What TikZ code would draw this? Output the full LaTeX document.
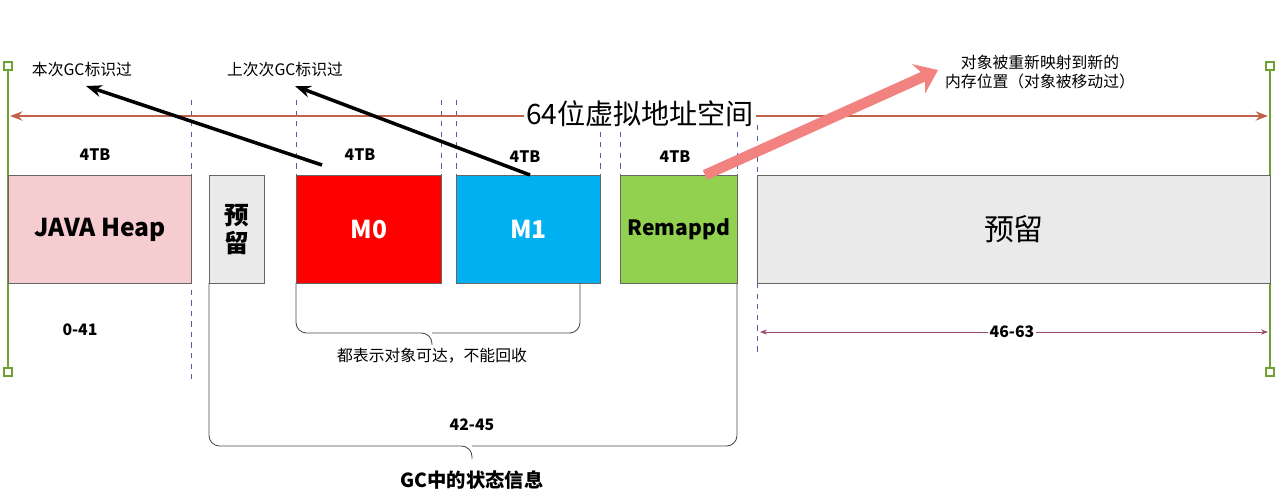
\documentclass[tikz,border=0pt]{standalone}
\usepackage{fontspec}
\setmainfont{Noto Sans CJK SC}
\usetikzlibrary{calc, arrows.meta, positioning}
\definecolor{heappink}{RGB}{245,204,208}
\definecolor{resgray}{RGB}{234,234,234}
\definecolor{mblue}{RGB}{0,176,240}
\definecolor{rgreen}{RGB}{146,208,80}
\definecolor{axisred}{RGB}{192,98,74}
\definecolor{salmon}{RGB}{242,130,128}
\definecolor{barolive}{RGB}{112,160,50}
\tikzset{
    region/.style = {rectangle, draw=gray!80!black, line width=0.5pt, minimum height=2.16cm, inner sep=0pt, font=\bfseries\fontsize{14}{16}\selectfont},
    sizelbl/.style = {font=\bfseries\fontsize{9}{11}\selectfont},
    note/.style = {font=\fontsize{9}{11}\selectfont},
    divider/.style = {dashed, draw=gray!70!blue, line width=0.4pt},
    bracket/.style = {draw=gray!60!black, rounded corners=6pt, line width=0.5pt},
}
\begin{document}
\begin{tikzpicture}[x=0.02cm, y=-0.02cm]
    \useasboundingbox (0,0) rectangle (1280,495);

    %% Boundaries
    \coordinate (ltop) at (8,66);
    \coordinate (lbot) at (8,372);
    \coordinate (rtop) at (1270,66);
    \coordinate (rbot) at (1270,372);
    \draw[barolive, line width=1.5pt] (ltop) -- (lbot);
    \draw[barolive, line width=1.5pt] (rtop) -- (rbot);
    \foreach \p in {ltop, lbot, rtop, rbot}
        \node[draw=barolive, fill=white, line width=1.2pt, minimum size=0.16cm, inner sep=0pt] at (\p) {};

    %% Dividers
    \foreach \x/\a/\b in {191/100/380, 296/100/175, 441/100/175, 456/100/175, 600/100/175, 620/100/175, 737/100/175, 757/125/355}
        \draw[divider] (\x,\a) -- (\x,\b);

    %% Address space
    \coordinate (axl) at (10,116);
    \coordinate (axr) at (1268,116);
    \draw[axisred, line width=1.4pt, {Stealth[length=7pt]}-{Stealth[length=7pt]}] (axl) -- (axr);
    \node (space) [fill=white, inner sep=1pt, font=\fontsize{16}{18}\selectfont] at (640,114) {64位虚拟地址空间};

    %% Regions
    \node (heap)  [region, anchor=north west, fill=heappink, minimum width=3.66cm] at (8,175)   {JAVA Heap};
    \node (res1)  [region, anchor=north west, fill=resgray,  minimum width=1.1cm, text width=0.5cm, align=center] at (209,175) {预\\留};
    \node (mzero) [region, anchor=north west, fill=red,   text=white, minimum width=2.9cm] at (296,175) {M0};
    \node (mone)  [region, anchor=north west, fill=mblue, text=white, minimum width=2.88cm] at (456,175) {M1};
    \node (remap) [region, anchor=north west, fill=rgreen, minimum width=2.34cm, font=\bfseries\fontsize{12}{14}\selectfont] at (620,175) {Remappd};
    \node (res2)  [region, anchor=north west, fill=resgray, minimum width=10.26cm, font=\fontsize{17}{19}\selectfont] at (757,175) {预留};

    %% Sizes
    \node[sizelbl] at (95,155)  {4TB};
    \node[sizelbl] at (360,155) {4TB};
    \node[sizelbl] at (525,157) {4TB};
    \node[sizelbl] at (675,157) {4TB};
    \node[sizelbl] at (80,330)  {0-41};

    %% High bits
    \coordinate (hil) at (760,332);
    \coordinate (hir) at (1268,332);
    \draw[gray!60!purple, line width=0.5pt, {Stealth[length=4pt]}-{Stealth[length=4pt]}] (hil) -- (hir);
    \node (high) [sizelbl, fill=white, inner sep=1pt] at (1012,332) {46-63};

    %% Brackets
    \draw[bracket] (296,283) -- (296,333) -- (432,333) -- (432,345);
    \draw[bracket] (580,283) -- (580,333) -- (432,333);
    \node (reach) [note] at (432,356) {都表示对象可达，不能回收};
    \draw[bracket] (209,283) -- (209,446) -- (472,446) -- (472,459);
    \draw[bracket] (737,283) -- (737,446) -- (472,446);
    \node[sizelbl] at (472,425) {42-45};
    \node (state) [sizelbl, font=\bfseries\fontsize{11}{13}\selectfont] at (472,480) {GC中的状态信息};

    %% Labels and pointers
    \node (cur)  [note] at (82,70)  {本次GC标识过};
    \node (prev) [note] at (285,70) {上次次GC标识过};
    \node (moved) [note, align=center] at (1040,72) {对象被重新映射到新的\\内存位置（对象被移动过）};
    \coordinate (curtip)  at (86,86);
    \coordinate (prevtip) at (295,86);
    \draw[-{Stealth[length=9pt]}, line width=2pt] (322,165) -- (curtip);
    \draw[-{Stealth[length=9pt]}, line width=2pt] (530,175) -- (prevtip);
    \coordinate (movtip) at (938,70);
    \draw[salmon, line width=6pt, -{Stealth[length=12pt, width=18pt]}] (705,175) -- (movtip);
\end{tikzpicture}
\end{document}
